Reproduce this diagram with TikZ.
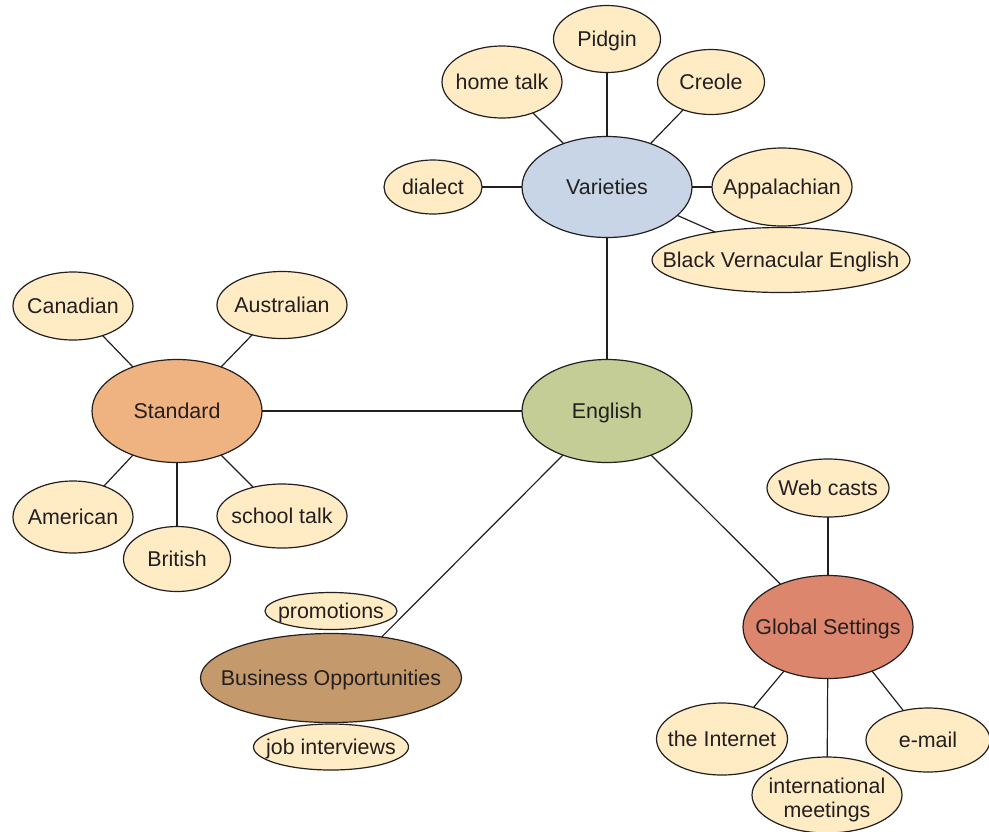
\documentclass[tikz,border=0pt]{standalone}
\usepackage{fontspec}
\setmainfont{Liberation Sans}
\usetikzlibrary{shapes.geometric}
\definecolor{leafc}{HTML}{FFEBC4}
\definecolor{varc}{HTML}{C7D5E7}
\definecolor{standc}{HTML}{EFB381}
\definecolor{englc}{HTML}{C3CD95}
\definecolor{busic}{HTML}{C49A6C}
\definecolor{globc}{HTML}{DC866D}
\definecolor{edgec}{HTML}{231F20}
\newcommand\tx[1]{\makebox[0pt]{#1}}
\begin{document}
\begin{tikzpicture}[x=0.5pt,y=-0.5pt,
  bub/.style={ellipse,draw=edgec,line width=0.6pt,inner sep=0pt,outer sep=0pt,
    font=\fontsize{10.7}{12}\selectfont,text=edgec,text height=7.7pt,text depth=0pt},
  lf/.style={bub,fill=leafc},
  link/.style={draw=edgec,line width=0.6pt}]
\useasboundingbox (0,0) rectangle (989,831);
% Varieties cluster
\node[bub,fill=varc,minimum width=85pt,minimum height=50.5pt] (var) at (607,187) {\tx{Varieties}};
\node[lf,minimum width=53.5pt,minimum height=33.5pt] (pid) at (607,39) {\tx{Pidgin}};
\node[lf,minimum width=60pt,minimum height=36pt] (home) at (502,82) {\tx{home talk}};
\node[lf,minimum width=53.5pt,minimum height=32.5pt] (creole) at (711,82) {\tx{Creole}};
\node[lf,minimum width=49pt,minimum height=27pt] (dialect) at (433,187) {\tx{dialect}};
\node[lf,minimum width=70pt,minimum height=39pt] (appal) at (782,187) {\tx{Appalachian}};
\node[lf,minimum width=129pt,minimum height=32.5pt] (bve) at (781,260) {\tx{Black Vernacular English}};
% Standard cluster
\node[bub,fill=standc,minimum width=85pt,minimum height=51.5pt] (stand) at (177,411) {\tx{Standard}};
\node[lf,minimum width=60pt,minimum height=34pt] (canad) at (73,306) {\tx{Canadian}};
\node[lf,minimum width=65pt,minimum height=33.5pt] (austr) at (282,305) {\tx{Australian}};
\node[lf,minimum width=60pt,minimum height=36pt] (amer) at (73,517) {\tx{American}};
\node[lf,minimum width=53.5pt,minimum height=32.5pt] (brit) at (177,559) {\tx{British}};
\node[lf,minimum width=65pt,minimum height=32pt] (school) at (282,516) {\tx{school talk}};
% English
\node[bub,fill=englc,minimum width=85pt,minimum height=51.5pt] (engl) at (607,411) {\tx{English}};
% Business
\node[bub,fill=busic,minimum width=130.5pt,minimum height=44.5pt] (busi) at (331,678) {\tx{Business Opportunities}};
\node[lf,minimum width=66pt,minimum height=18.5pt] (promo) at (331,611) {\tx{promotions}};
\node[lf,minimum width=77.5pt,minimum height=23pt] (job) at (331,747) {\tx{job interviews}};
% Global
\node[bub,fill=globc,minimum width=85pt,minimum height=51.5pt] (glob) at (828,627) {\tx{Global Settings}};
\node[lf,minimum width=61pt,minimum height=29pt] (web) at (828,488) {\tx{Web casts}};
\node[lf,minimum width=65.5pt,minimum height=36pt] (inet) at (722,739) {\tx{the Internet}};
\node[lf,minimum width=75pt,minimum height=38pt,text height=7.7pt,text depth=9pt] (intl) at (827,795)
  {\tx{\begin{tabular}[t]{@{}c@{}}international\\meetings\end{tabular}}};
\node[lf,minimum width=62pt,minimum height=32pt] (email) at (928,740) {\tx{e-mail}};
% connectors
\draw[link] (var) -- (engl);
\draw[link] (stand) -- (engl);
\draw[link] (engl.225) -- (busi.39);
\draw[link] (engl.315) -- (glob.138);
\draw[link] (var) -- (pid);
\draw[link] (var.135) -- (home.-45);
\draw[link] (var.45) -- (creole.-135);
\draw[link] (var) -- (dialect);
\draw[link] (var) -- (appal);
\draw[link] (var.-22) -- (bve.157);
\draw[link] (stand.135) -- (canad.-45);
\draw[link] (stand.45) -- (austr.-135);
\draw[link] (stand.-135) -- (amer.45);
\draw[link] (stand) -- (brit);
\draw[link] (stand.-45) -- (school.135);
\draw[link] (glob) -- (web);
\draw[link] (glob.-135) -- (inet.45);
\draw[link] (glob) -- (intl);
\draw[link] (glob.-45) -- (email.130);
\end{tikzpicture}
\end{document}
